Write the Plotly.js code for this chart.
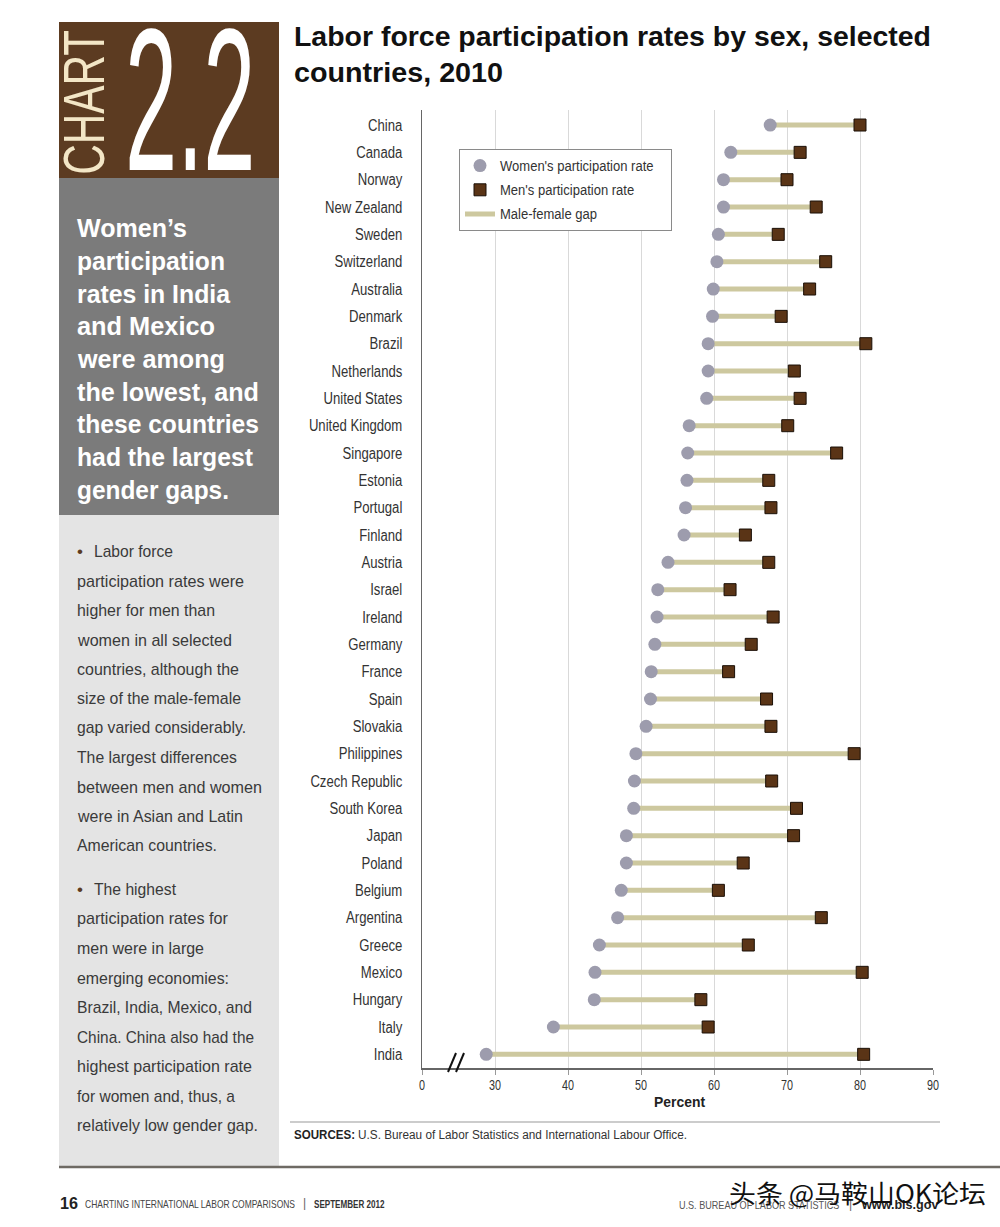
<!DOCTYPE html>
<html>
<head>
<meta charset="utf-8">
<script src="https://cdn.plot.ly/plotly-3.0.1.min.js"></script>
<style>
html,body{margin:0;padding:0;background:#fff;}
#chart{width:1000px;height:1227px;}
</style>
</head>
<body>
<div id="chart"></div>
<script>
// ---------------- DATA ----------------
const countries = ['China','Canada','Norway','New Zealand','Sweden','Switzerland','Australia','Denmark','Brazil','Netherlands','United States','United Kingdom','Singapore','Estonia','Portugal','Finland','Austria','Israel','Ireland','Germany','France','Spain','Slovakia','Philippines','Czech Republic','South Korea','Japan','Poland','Belgium','Argentina','Greece','Mexico','Hungary','Italy','India'];
const womenRate = [67.7,62.3,61.3,61.3,60.6,60.4,59.9,59.8,59.2,59.2,59.0,56.6,56.4,56.3,56.1,55.9,53.7,52.3,52.2,51.9,51.4,51.3,50.7,49.3,49.1,49.0,48.0,48.0,47.3,46.8,44.3,43.7,43.6,38.0,28.8];
const menRate = [80.0,71.8,70.0,74.0,68.8,75.3,73.1,69.2,80.8,71.0,71.8,70.1,76.8,67.5,67.8,64.3,67.5,62.2,68.1,65.1,62.0,67.2,67.8,79.2,67.9,71.3,70.9,64.0,60.6,74.7,64.7,80.3,58.2,59.2,80.5];
const tickValues = [20,30,40,50,60,70,80,90];
const tickLabels = ['0','30','40','50','60','70','80','90'];
const seriesNames = ["Women's participation rate","Men's participation rate","Male-female gap"];

const headline = ['Women\u2019s','participation','rates in India','and Mexico','were among','the lowest, and','these countries','had the largest','gender gaps.'];
const bullet1 = ['Labor force','participation rates were','higher for men than','women in all selected','countries, although the','size of the male-female','gap varied considerably.','The largest differences','between men and women','were in Asian and Latin','American countries.'];
const bullet2 = ['The highest','participation rates for','men were in large','emerging economies:','Brazil, India, Mexico, and','China. China also had the','highest participation rate','for women and, thus, a','relatively low gender gap.'];

// ---------------- LAYOUT HELPERS ----------------
const L = 422, T = 110, W = 511, H = 958;
const PX = p => (p - L) / W;
const PY = p => 1 - (p - T) / H;
const SANS = '"Liberation Sans","Helvetica","Arial",sans-serif';
const BROWN = '#5c3b21';

const ann = [];
const fit = {};   // annotation index -> {tw: target px width, sy: vertical stretch, big: [sx,sy]}
function txt(x, y, text, size, color, opts, spec) {
  opts = opts || {};
  const o = Object.assign({
    xref:'paper', yref:'paper', x:PX(x), y:PY(y), xanchor:'left', yanchor:'middle', align:'left',
    text:text, showarrow:false, borderpad:0,
    font:{size:size, color:color, family:opts.family || SANS, weight:opts.weight || 'normal'}
  }, opts);
  delete o.family; delete o.weight;
  if (o.xanchor === 'right') o.align = 'right';
  if (o.xanchor === 'center') o.align = 'center';
  if (spec) fit[ann.length] = spec;
  ann.push(o);
}
const shapes = [];
function rect(x0, y0, x1, y1, fill) {
  shapes.push({type:'rect', xref:'paper', yref:'paper', x0:PX(x0), x1:PX(x1), y0:PY(y0), y1:PY(y1),
    fillcolor:fill, line:{width:0}, layer:'below'});
}
function line(x0, y0, x1, y1, color, width) {
  shapes.push({type:'line', xref:'paper', yref:'paper', x0:PX(x0), x1:PX(x1), y0:PY(y0), y1:PY(y1),
    line:{color:color, width:width}});
}

// left panel
rect(59, 22, 279, 178, BROWN);
rect(59, 178, 279, 515, '#7b7b7b');
rect(59, 515, 279, 1166, '#e4e4e4');
txt(84, 103, 'CHART', 57, '#f3e6c6', {xanchor:'center', textangle:-90}, {tw:145});
txt(190, 100, '2.2', 140, '#ffffff', {xanchor:'center'}, {big:[0.67,1.44]});

const hy = [228,261,294,326,359,392,424,457,490];
const hw = [110,148,153,138,147,182,182,176,152];
headline.forEach((s,i) => txt(76, hy[i], s, 26, '#ffffff', {weight:'bold'}, {tw:hw[i]}));

const b1y = [551,581,610,640,669,698,727,757,787,816,845];
const b1w = [79,167,138,154,162,164,169,160,185,165,140];
const b2y = [889,918,948,978,1007,1037,1066,1096,1125];
const b2w = [82,151,127,152,175,177,175,158,181];
[[bullet1,b1y,b1w],[bullet2,b2y,b2w]].forEach(([lines,ys,ws]) => {
  lines.forEach((s,i) => {
    if (i === 0) {
      txt(76, ys[i], '\u2022', 17, BROWN);
      txt(93, ys[i], s, 17, '#3a3a3a', {}, {tw:ws[i]});
    } else {
      txt(76, ys[i], s, 17, '#3a3a3a', {}, {tw:ws[i]});
    }
  });
});

// title
txt(293, 37, 'Labor force participation rates by sex, selected', 28, '#111111', {weight:'bold'}, {tw:637});
txt(293, 72, 'countries, 2010', 28, '#111111', {weight:'bold'}, {tw:209});

// axis title
txt(679, 1101, 'Percent', 15, '#222222', {xanchor:'center', weight:'bold'}, {tw:51});

// sources
line(290, 1122, 940, 1122, '#9a9a9a', 1.2);
txt(293, 1135, 'SOURCES:', 12.5, '#222222', {weight:'bold'}, {tw:61});
txt(357, 1135, 'U.S. Bureau of Labor Statistics and International Labour Office.', 12.5, '#333333', {}, {tw:329});

// footer
line(59, 1167, 1000, 1167, '#6e6a64', 2.5);
txt(59, 1203, '16', 17, '#222222', {weight:'bold'}, {tw:18});
txt(84, 1204, 'CHARTING INTERNATIONAL LABOR COMPARISONS', 8.5, '#444444', {}, {sy:1.3});
txt(302, 1203, '|', 12, '#666666');
txt(313, 1204, 'SEPTEMBER 2012', 8.1, '#333333', {weight:'bold'}, {sy:1.3});
txt(840, 1205, 'U.S. BUREAU OF LABOR STATISTICS', 9.1, '#555555', {xanchor:'right'}, {sy:1.2});
txt(848, 1204, '|', 12, '#666666');
txt(860, 1205, 'www.bls.gov', 12.6, '#222222', {weight:'bold'});
txt(728, 1192, '头条 @马鞍山OK论坛', 25, '#111111', {family:'"Noto Sans CJK SC",sans-serif'}, {tw:257});

// axis break mark
line(448, 1072, 456, 1053, '#111111', 2);
line(456, 1072, 464, 1053, '#111111', 2);

// ---------------- TRACES ----------------
const gapX = [], gapY = [];
countries.forEach((c,i) => { gapX.push(womenRate[i], menRate[i], null); gapY.push(c, c, null); });

const traces = [
  {type:'scatter', mode:'lines', x:gapX, y:gapY, name:seriesNames[2], legendrank:3, legendgroup:'c',
   line:{color:'#cdc89f', width:5}, hoverinfo:'skip'},
  {type:'scatter', mode:'markers', x:womenRate, y:countries, name:seriesNames[0], legendrank:1, legendgroup:'a',
   marker:{symbol:'circle', size:13, color:'#9d9cad'}},
  {type:'scatter', mode:'markers', x:menRate, y:countries, name:seriesNames[1], legendrank:2, legendgroup:'b',
   marker:{symbol:'square', size:12, color:'#5a3416', line:{color:'#1a0f06', width:1}}}
];

const layout = {
  width:1000, height:1227,
  margin:{l:L, r:1000-L-W, t:T, b:1227-T-H, pad:0},
  paper_bgcolor:'#ffffff', plot_bgcolor:'#ffffff',
  showlegend:true,
  legend:{x:PX(459), y:PY(149), xanchor:'left', yanchor:'top', bgcolor:'#ffffff',
    bordercolor:'#8a8a8a', borderwidth:1, font:{family:SANS, size:14, color:'#333333'},
    traceorder:'grouped', tracegroupgap:3, itemwidth:30},
  xaxis:{range:[20,90], tickmode:'array', tickvals:tickValues, ticktext:tickLabels,
    showgrid:true, gridcolor:'#d9d9d9', gridwidth:1, zeroline:false,
    showline:true, linecolor:'#666666', linewidth:1.5,
    ticks:'outside', ticklen:5, tickcolor:'#999999', tickwidth:1, ticklabelstandoff:-3,
    tickfont:{family:SANS, size:15, color:'#333333'}, fixedrange:true},
  yaxis:{type:'category', categoryorder:'array', categoryarray:countries, range:[34.5,-0.55],
    showgrid:false, zeroline:false, showline:true, linecolor:'#666666', linewidth:1.5,
    ticks:'', ticklabelstandoff:15, tickfont:{family:SANS, size:16, color:'#333333'}, fixedrange:true},
  shapes:shapes,
  annotations:ann
};

function squeeze(el, target) {
  el.setAttribute('textLength', target.toFixed(1));
  el.setAttribute('lengthAdjust', 'spacingAndGlyphs');
}
function stretch(el, sx, sy) {
  el.style.transformBox = 'fill-box';
  el.style.transformOrigin = 'center';
  el.style.transform = 'scale(' + sx + ',' + sy + ')';
}

Plotly.newPlot('chart', traces, layout, {displayModeBar:false, staticPlot:true}).then(() => {
  document.querySelectorAll('g.annotation').forEach(g => {
    const idx = +g.getAttribute('data-index');
    const t = g.querySelector('text.annotation-text');
    const spec = fit[idx];
    if (!t || !spec) return;
    if (spec.big) stretch(t, spec.big[0], spec.big[1]);
    if (spec.sy) stretch(t, 1, spec.sy);
    if (spec.tw) squeeze(t, spec.tw);
  });
  document.querySelectorAll('g.ytick text').forEach(t => squeeze(t, t.getComputedTextLength() * 0.82));
  document.querySelectorAll('g.xtick text').forEach(t => squeeze(t, t.getComputedTextLength() * 0.72));
  document.querySelectorAll('text.legendtext').forEach(t => squeeze(t, t.getComputedTextLength() * 0.93));
});
</script>
</body>
</html>
